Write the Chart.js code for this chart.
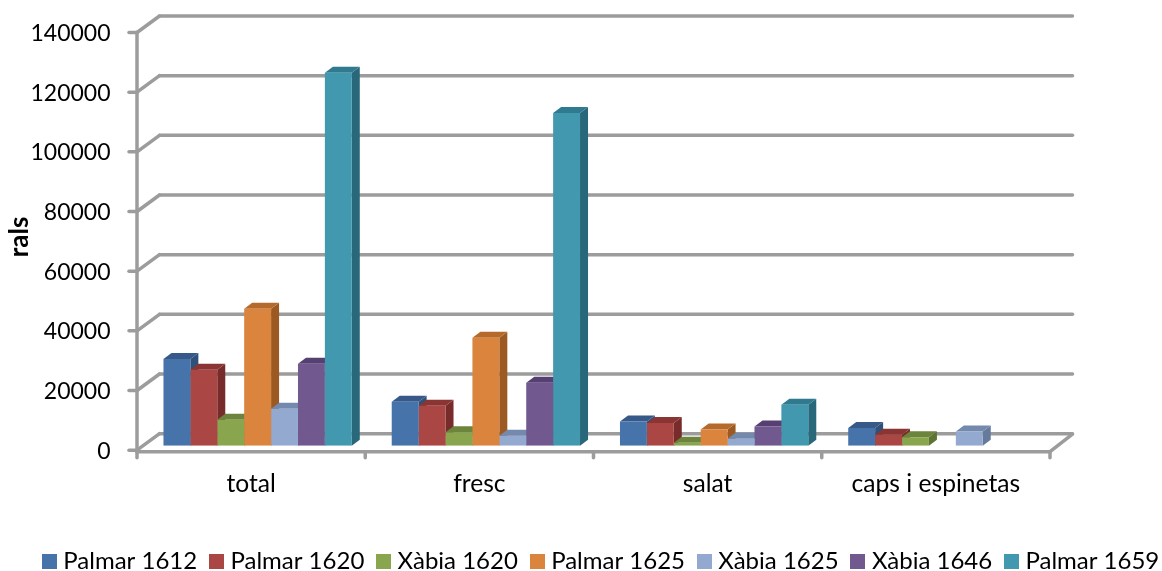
<!DOCTYPE html>
<html>
<head>
<meta charset="utf-8">
<style>
  html, body { margin: 0; padding: 0; background: #fff; }
  canvas { display: block; }
</style>
<script src="https://cdn.jsdelivr.net/npm/chart.js@4"></script>
</head>
<body>
<canvas id="chart" width="1162" height="571"></canvas>
<script>
const categories = ["total", "fresc", "salat", "caps i espinetas"];
const palmar1612 = [29100, 14700, 8100, 5900];
const palmar1620 = [25450, 13400, 7600, 3700];
const xabia1620 = [8700, 4500, 1000, 2800];
const palmar1625 = [45900, 36200, 5400, null];
const xabia1625 = [12400, 3300, 2300, 4800];
const xabia1646 = [27500, 21100, 6400, null];
const palmar1659 = [125000, 111500, 13700, null];

const series = [
  { label: "Palmar 1612", data: palmar1612, front: "#4674aa", top: "#36598a", side: "#2f5078" },
  { label: "Palmar 1620", data: palmar1620, front: "#aa4644", top: "#8a3533", side: "#772c2b" },
  { label: "Xàbia 1620", data: xabia1620, front: "#89a54e", top: "#6c843b", side: "#5f7433" },
  { label: "Palmar 1625", data: palmar1625, front: "#db843d", top: "#b56a2b", side: "#9c5a22" },
  { label: "Xàbia 1625", data: xabia1625, front: "#93a9cf", top: "#7389ae", side: "#667a9c" },
  { label: "Xàbia 1646", data: xabia1646, front: "#71588f", top: "#563f72", side: "#4b3664" },
  { label: "Palmar 1659", data: palmar1659, front: "#4198af", top: "#2f7a8e", side: "#28687a" },
];

const wallColor = "#9c9c9c";
const textColor = "#000";
const fontName = "Lato, Carlito, sans-serif";

// how far the front of the floor and the back wall sit from the plane of the bars
const front = { x: -6.5, y: 4.5 };
const back = { x: 16, y: -12 };
const barDepth = { x: 8, y: -6 };

function legendSwatch(color) {
  const c = document.createElement("canvas");
  c.width = 15;
  c.height = 15;
  const g = c.getContext("2d");
  g.fillStyle = color;
  g.fillRect(0, 0, 15, 15);
  return c;
}

function line(ctx, x1, y1, x2, y2) {
  ctx.beginPath();
  ctx.moveTo(x1, y1);
  ctx.lineTo(x2, y2);
  ctx.stroke();
}

function poly(ctx, points, color) {
  ctx.fillStyle = color;
  ctx.beginPath();
  points.forEach(([x, y], i) => (i ? ctx.lineTo(x, y) : ctx.moveTo(x, y)));
  ctx.closePath();
  ctx.fill();
}

const wallsPlugin = {
  id: "walls",
  afterLayout(chart) {
    // legend row sits lower and further right than the library would put it
    chart.legend.left += 30;
    chart.legend.right += 30;
    chart.legend.top += 12;
    chart.legend.bottom += 12;
  },
  beforeDatasetsDraw(chart) {
    const { ctx, scales } = chart;
    const xs = scales.x;
    const ys = scales.y;
    ctx.save();
    ctx.strokeStyle = wallColor;
    ctx.lineWidth = 3.5;
    ctx.lineCap = "round";

    ys.ticks.forEach((tick) => {
      const p = ys.getPixelForValue(tick.value);
      line(ctx, xs.left + front.x - 8, p + front.y, xs.left + front.x, p + front.y);
      line(ctx, xs.left + front.x, p + front.y, xs.left + back.x, p + back.y);
      line(ctx, xs.left + back.x, p + back.y, xs.right + back.x, p + back.y);
    });

    const floor = ys.getPixelForValue(0) + front.y + 1.5;
    const topPx = ys.getPixelForValue(ys.max) + front.y;
    line(ctx, xs.left + front.x, topPx, xs.left + front.x, floor);
    line(ctx, xs.left + front.x, floor, xs.right + front.x, floor);
    line(ctx, xs.right + front.x, floor, xs.right + back.x, floor - 17.5);
    for (let i = 0; i <= categories.length; i++) {
      const px = xs.left + front.x + (i * xs.width) / categories.length;
      line(ctx, px, floor, px, floor + 6);
    }

    // depth faces of the bars, left to right, the fronts are painted over them
    categories.forEach((_, c) => {
      series.forEach((s, d) => {
        const bar = chart.getDatasetMeta(d).data[c];
        if (s.data[c] === null) return;
        const l = bar.x - bar.width / 2;
        const r = bar.x + bar.width / 2;
        poly(ctx, [[r, bar.y], [r + barDepth.x, bar.y + barDepth.y], [r + barDepth.x, bar.base + barDepth.y], [r, bar.base]], s.side);
        poly(ctx, [[l, bar.y], [r, bar.y], [r + barDepth.x, bar.y + barDepth.y], [l + barDepth.x, bar.y + barDepth.y]], s.top);
      });
    });
    ctx.restore();
  },
};

new Chart(document.getElementById("chart"), {
  type: "bar",
  plugins: [wallsPlugin],
  data: {
    labels: categories,
    datasets: series.map((s) => ({
      label: s.label,
      data: s.data,
      backgroundColor: s.front,
      pointStyle: legendSwatch(s.front),
      categoryPercentage: 0.825,
      barPercentage: 1,
    })),
  },
  options: {
    responsive: false,
    animation: false,
    plugins: {
      tooltip: { enabled: false },
      legend: {
        position: "bottom",
        align: "start",
        labels: {
          usePointStyle: true,
          boxWidth: 4,
          boxHeight: 4,
          padding: 17.3,
          color: textColor,
          font: { family: fontName, size: 24 },
        },
      },
    },
    scales: {
      x: {
        grid: { display: false, drawTicks: false },
        border: { display: false },
        ticks: {
          color: textColor,
          padding: 24,
          labelOffset: -6.5,
          maxRotation: 0,
          autoSkip: false,
          font: { family: fontName, size: 24.6 },
        },
        afterFit(scale) {
          scale.paddingRight = 105.5;
          scale.height = 74;
        },
      },
      y: {
        min: 0,
        max: 140000,
        grid: { display: false, drawTicks: false },
        border: { display: false },
        ticks: {
          stepSize: 20000,
          color: textColor,
          padding: 33,
          labelOffset: 5.5,
          font: { family: fontName, size: 23 },
          callback: (value) => String(value),
        },
        title: {
          display: true,
          text: "rals",
          color: textColor,
          padding: { top: 4, bottom: 0 },
          font: { family: fontName, size: 26, weight: "bold" },
        },
        afterFit(scale) {
          scale.width = 143.5;
          scale.paddingTop = 28;
          scale.paddingBottom = 0;
        },
      },
    },
  },
});
</script>
</body>
</html>
